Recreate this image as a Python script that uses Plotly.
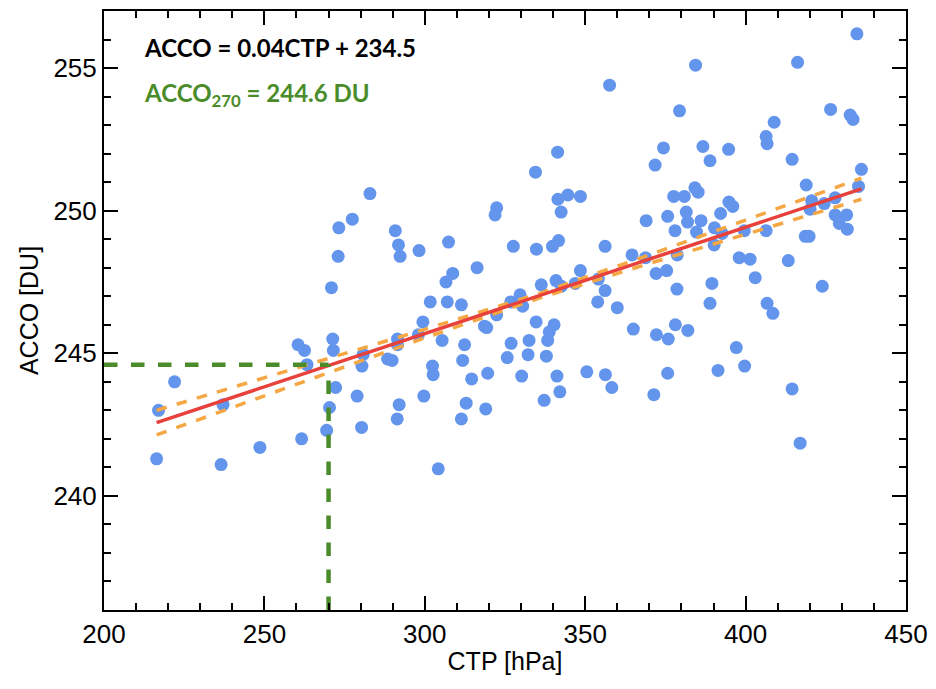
import plotly.graph_objects as go

# scatter points (CTP [hPa], ACCO [DU])
ctp = [216.4, 217.0, 222.0, 236.5, 237.1, 248.6, 260.5, 262.5, 263.3, 261.6,
       269.4, 270.3, 272.2, 271.3, 271.5, 270.9, 273.0, 273.2, 277.4, 282.9,
       278.9, 280.3, 280.4, 280.8, 290.8, 291.8, 292.3, 298.2, 307.4, 308.7,
       306.6, 316.3, 322.4, 321.9, 301.7, 307.0, 311.4, 299.4, 322.4, 318.6,
       319.3, 298.0, 291.5, 291.5, 305.4, 312.4, 288.4, 289.8, 302.4, 302.6,
       311.8, 314.6, 319.6, 292.0, 291.4, 299.7, 312.9, 311.4, 319.0, 304.2,
       384.4, 357.6, 379.4, 374.4, 386.7, 371.8, 388.9, 341.4, 334.5, 341.5,
       344.6, 348.5, 342.5, 377.6, 380.9, 384.2, 385.2, 381.5, 381.9, 386.1,
       384.7, 392.2, 390.3, 390.2, 375.7, 369.0, 378.0, 341.7, 339.8, 327.6,
       334.8, 356.2, 364.6, 368.8, 378.7, 372.1, 375.4, 378.6, 389.5, 388.9,
       348.5, 354.1, 356.2, 353.9, 360.0, 340.9, 342.6, 346.9, 336.3, 329.7,
       330.5, 326.8, 334.7, 340.3, 338.8, 338.3, 332.5, 326.9, 325.7, 332.2,
       337.9, 365.0, 372.2, 375.9, 378.1, 382.0, 330.2, 341.2, 342.1, 337.2,
       350.5, 356.3, 358.3, 371.4, 375.7, 391.4,
       434.7, 416.2, 426.5, 432.6, 433.5, 408.9, 406.4, 406.7, 394.7, 414.5,
       436.1, 418.9, 435.2, 420.6, 420.1, 424.5, 427.9, 427.9, 429.2, 431.5,
       431.7, 418.6, 419.8, 394.8, 396.0, 392.7, 399.6, 406.4, 398.0, 401.4,
       413.3, 403.0, 423.9, 406.7, 408.5, 397.1, 399.7, 414.5, 417.0]
acco = [241.3, 243.0, 244.0, 241.1, 243.2, 241.7, 245.3, 245.1, 244.6, 242.0,
        242.3, 243.1, 243.8, 245.5, 245.1, 247.3, 248.4, 249.4, 249.7, 250.6,
        243.5, 242.4, 244.55, 244.96, 249.3, 248.8, 248.4, 248.6, 248.9, 247.8,
        247.5, 248.0, 250.1, 249.85, 246.8, 246.8, 246.7, 246.1, 246.35, 245.95,
        245.9, 245.65, 245.5, 245.3, 245.45, 245.3, 244.8, 244.75, 244.55, 244.25,
        244.75, 244.1, 244.3, 243.2, 242.7, 243.5, 243.25, 242.7, 243.05, 240.95,
        255.1, 254.4, 253.5, 252.2, 252.25, 251.6, 251.75, 252.05, 251.35, 250.4,
        250.55, 250.5, 249.95, 250.5, 250.5, 250.8, 250.65, 249.95, 249.6, 249.65,
        249.25, 249.9, 249.4, 248.8, 249.8, 249.65, 249.3, 248.95, 248.75, 248.75,
        248.65, 248.75, 248.45, 248.35, 248.45, 247.8, 247.9, 247.25, 247.45, 246.75,
        247.9, 247.6, 247.2, 246.8, 246.6, 247.55, 247.35, 247.45, 247.4, 247.05,
        246.65, 246.8, 246.1, 246.0, 245.75, 245.45, 245.45, 245.35, 244.85, 244.95,
        244.9, 245.85, 245.65, 245.5, 246.0, 245.8, 244.2, 244.2, 243.65, 243.35,
        244.35, 244.25, 243.8, 243.55, 244.3, 244.4,
        256.2, 255.2, 253.55, 253.35, 253.2, 253.1, 252.6, 252.35, 252.15, 251.8,
        251.45, 250.9, 250.85, 250.35, 250.05, 250.25, 250.45, 249.85, 249.55, 249.85,
        249.35, 249.1, 249.1, 250.3, 250.15, 249.2, 249.3, 249.3, 248.35, 248.3,
        248.25, 247.65, 247.35, 246.75, 246.4, 245.2, 244.55, 243.75, 241.85]

# regression line and its confidence band
fit_slope = 0.0373
fit_intercept = 234.5
fit_x = [216.4, 436.1]
band_x = [216.4, 240, 270, 300, 335, 370, 400, 436.1]
band_upper = [243.00, 243.80, 244.82, 245.84, 247.07, 248.45, 249.67, 251.14]
band_lower = [242.14, 243.10, 244.32, 245.54, 246.91, 248.15, 249.17, 250.40]

ctp_ref = 270
acco_ref = 244.6

fig = go.Figure()

fig.add_trace(go.Scatter(x=ctp, y=acco, mode="markers",
                         marker=dict(color="#6495ED", size=13)))

fig.add_trace(go.Scatter(x=band_x, y=band_upper, mode="lines",
                         line=dict(color="#F4A742", width=3.5, dash="dash")))
fig.add_trace(go.Scatter(x=band_x, y=band_lower, mode="lines",
                         line=dict(color="#F4A742", width=3.5, dash="dash")))
fig.add_trace(go.Scatter(x=fit_x, y=[fit_intercept + fit_slope * v for v in fit_x],
                         mode="lines", line=dict(color="#E8403A", width=3.5)))

# green guide lines at CTP = 270
fig.add_trace(go.Scatter(x=[200, ctp_ref], y=[acco_ref, acco_ref], mode="lines",
                         line=dict(color="#4A8C2A", width=4.5, dash="dash")))
fig.add_trace(go.Scatter(x=[ctp_ref, ctp_ref], y=[236, acco_ref], mode="lines",
                         line=dict(color="#4A8C2A", width=4.5, dash="dash")))

tick_font = dict(family="Liberation Sans, Arial", size=26, color="black")
title_font = dict(family="Liberation Sans, Arial", size=25, color="black")
fig.update_xaxes(range=[200, 450], tick0=200, dtick=50, showgrid=False, zeroline=False,
                 showline=True, linecolor="black", linewidth=2, mirror="ticks",
                 ticks="inside", ticklen=14, tickwidth=2, tickcolor="black",
                 tickfont=tick_font, title=dict(text="CTP [hPa]", font=title_font, standoff=4),
                 minor=dict(dtick=10, ticks="inside", ticklen=7, tickwidth=2, tickcolor="black"))
fig.update_yaxes(range=[236, 257], tick0=240, dtick=5, showgrid=False, zeroline=False,
                 showline=True, linecolor="black", linewidth=2, mirror="ticks",
                 ticks="inside", ticklen=14, tickwidth=2, tickcolor="black",
                 tickfont=tick_font, title=dict(text="ACCO [DU]", font=title_font, standoff=8),
                 minor=dict(dtick=1, ticks="inside", ticklen=7, tickwidth=2, tickcolor="black"))

fig.add_annotation(x=0.047, y=0.967, xref="paper", yref="paper", xanchor="left",
                   showarrow=False, text="<b>ACCO = 0.04CTP + 234.5</b>",
                   font=dict(family="Lato", size=24, color="black"))
fig.add_annotation(x=0.047, y=0.892, xref="paper", yref="paper", xanchor="left",
                   showarrow=False, text="<b>ACCO<sub>270</sub> = 244.6 DU</b>",
                   font=dict(family="Lato", size=24, color="#4A8C2A"))

# the page adds an 8 px body margin, so the plot box is shifted back by that much
fig.update_layout(width=936, height=689, showlegend=False,
                  plot_bgcolor="white", paper_bgcolor="white",
                  margin=dict(l=96, r=38, t=1, b=87))

fig.write_html("out.html")
